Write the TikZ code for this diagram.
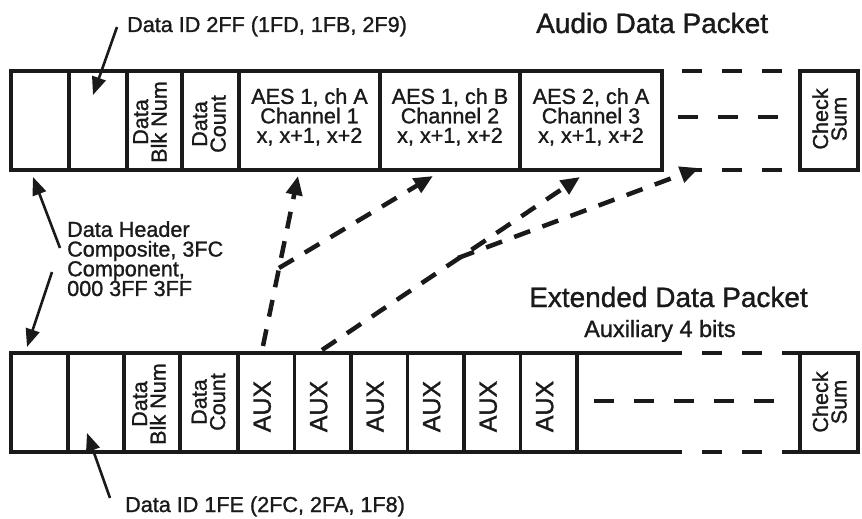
\documentclass[tikz,border=0pt]{standalone}
\usepackage{fontspec}
\setmainfont{Liberation Sans}[RawFeature={embolden=1.2}]
\usetikzlibrary{arrows.meta}
\definecolor{ink}{HTML}{1A1A1A}
\begin{document}
\begin{tikzpicture}[x=1pt,y=-1pt,
  cellbox/.style={draw=ink, line width=3.5pt, inner sep=0pt, outer sep=0pt, anchor=north west, minimum height=99pt},
  edge/.style={draw=ink, line width=3.5pt},
  dashedge/.style={draw=ink, line width=3.5pt, dash pattern=on 20pt off 20pt},
  lbl/.style={text=ink, inner sep=0pt, font=\fontsize{21.6}{19.5}\selectfont, align=center},
  rlbl/.style={lbl, rotate=90, font=\fontsize{21.6}{18.5}\selectfont},
  auxlbl/.style={lbl, rotate=90, font=\fontsize{25}{25}\selectfont},
  title/.style={text=ink, inner sep=0pt, font=\fontsize{28}{28}\selectfont},
  solidarrow/.style={draw=ink, line width=2.6pt, -{Triangle[length=18pt,width=14pt]}},
  dasharrow/.style={draw=ink, line width=4.5pt, dash pattern=on 17pt off 13pt, -{Triangle[length=19pt,width=16pt]}}
]
\useasboundingbox[fill=white] (0,0) rectangle (862,519);

% ---------- top row: Audio Data Packet ----------
\node[cellbox, minimum width=58pt]  (t1) at (11,71) {};
\node[cellbox, minimum width=58pt]  (t2) at (69,71) {};
\node[cellbox, minimum width=55pt]  (t3) at (127,71) {};
\node[cellbox, minimum width=57pt]  (t4) at (182,71) {};
\node[cellbox, minimum width=141pt] (t5) at (239,71) {};
\node[cellbox, minimum width=140pt] (t6) at (380,71) {};
\node[cellbox, minimum width=142pt] (t7) at (520,71) {};
\node[cellbox, minimum width=58pt]  (t8) at (800,71) {};

\draw[dashedge, dash phase=20pt] (t7.north east) -- (t8.north west);
\draw[dashedge, dash phase=20pt] (t7.south east) -- (t8.south west);
\coordinate (tm1) at (678,117);
\coordinate (tm2) at (778,117);
\draw[dashedge] (tm1) -- (tm2);

\node[rlbl] (t3l) at (150,122) {Data\\Blk Num};
\node[rlbl] (t4l) at (209,124) {Data\\Count};
\node[lbl, anchor=north] (t5l) at (309.5,88) {AES 1, ch A\\Channel 1\\x, x+1, x+2};
\node[lbl, anchor=north] (t6l) at (450,88) {AES 1, ch B\\Channel 2\\x, x+1, x+2};
\node[lbl, anchor=north] (t7l) at (591,88) {AES 2, ch A\\Channel 3\\x, x+1, x+2};
\node[rlbl] (t8l) at (829.5,119) {Check\\Sum};

% ---------- bottom row: Extended Data Packet ----------
\node[cellbox, minimum width=57pt] (b1) at (11,353) {};
\node[cellbox, minimum width=56pt] (b2) at (68,353) {};
\node[cellbox, minimum width=56pt] (b3) at (124,353) {};
\node[cellbox, minimum width=58pt] (b4) at (180,353) {};
\node[cellbox, minimum width=56.5pt] (x1) at (238,353) {};
\node[cellbox, minimum width=56.5pt] (x2) at (294.5,353) {};
\node[cellbox, minimum width=56.5pt] (x3) at (351,353) {};
\node[cellbox, minimum width=56.5pt] (x4) at (407.5,353) {};
\node[cellbox, minimum width=56.5pt] (x5) at (464,353) {};
\node[cellbox, minimum width=56.5pt] (x6) at (520.5,353) {};
\node[cellbox, minimum width=58pt]  (b8) at (800,353) {};

\coordinate (bj1) at (664,353);
\coordinate (bj2) at (664,452);
\draw[edge] (x6.north east) -- (bj1);
\draw[edge] (x6.south east) -- (bj2);
\draw[dashedge, dash phase=2pt] (bj1) -- (b8.north west);
\draw[dashedge, dash phase=2pt] (bj2) -- (b8.south west);
\coordinate (bm1) at (594,401);
\coordinate (bm2) at (774,401);
\draw[dashedge] (bm1) -- (bm2);

\node[rlbl] (b3l) at (149,404) {Data\\Blk Num};
\node[rlbl] (b4l) at (208.5,402) {Data\\Count};
\foreach \c in {x1,x2,x3,x4,x5,x6}{
  \node[auxlbl] (\c l) at ([xshift=-4pt,yshift=-4pt]\c.center) {AUX};
}
\node[rlbl] (b8l) at (829.5,402) {Check\\Sum};

% ---------- titles and labels ----------
\node[title, anchor=base west] (audio) at (536,33) {Audio Data Packet};
\node[title, anchor=base west] (ext) at (529,307) {Extended Data Packet};
\node[text=ink, inner sep=0pt, font=\fontsize{23.5}{23.5}\selectfont, anchor=base west] (auxb) at (584,337) {Auxiliary 4 bits};
\node[lbl, anchor=base west] (id1) at (127,32) {Data ID 2FF (1FD, 1FB, 2F9)};
\node[lbl, anchor=base west] (id2) at (125,512) {Data ID 1FE (2FC, 2FA, 1F8)};
\node[lbl, align=left, anchor=north west, font=\fontsize{21.6}{19.7}\selectfont] (hdr) at (67,221)
  {Data Header\\Composite, 3FC\\Component,\\000 3FF 3FF};

% ---------- solid pointer arrows ----------
\coordinate (a1s) at (117,27);  \coordinate (a1e) at (93,95);
\coordinate (a2s) at (60,248);  \coordinate (a2e) at (33,177);
\coordinate (a3s) at (52,272);  \coordinate (a3e) at (27,347);
\coordinate (a4s) at (110,498); \coordinate (a4e) at (87,433);
\draw[solidarrow] (a1s) -- (a1e);
\draw[solidarrow] (a2s) -- (a2e);
\draw[solidarrow] (a3s) -- (a3e);
\draw[solidarrow] (a4s) -- (a4e);

% ---------- dashed mapping arrows ----------
\coordinate (da) at (263,346);  \coordinate (dae) at (298,176);
\coordinate (db) at (279,268);  \coordinate (dbe) at (433,176);
\coordinate (dc) at (322,350);  \coordinate (dce) at (580,177);
\coordinate (dd) at (458,258);  \coordinate (dde) at (699,168);
\draw[dasharrow] (da) -- (dae);
\draw[dasharrow] (db) -- (dbe);
\draw[dasharrow] (dc) -- (dce);
\draw[dasharrow] (dd) -- (dde);
\end{tikzpicture}
\end{document}
